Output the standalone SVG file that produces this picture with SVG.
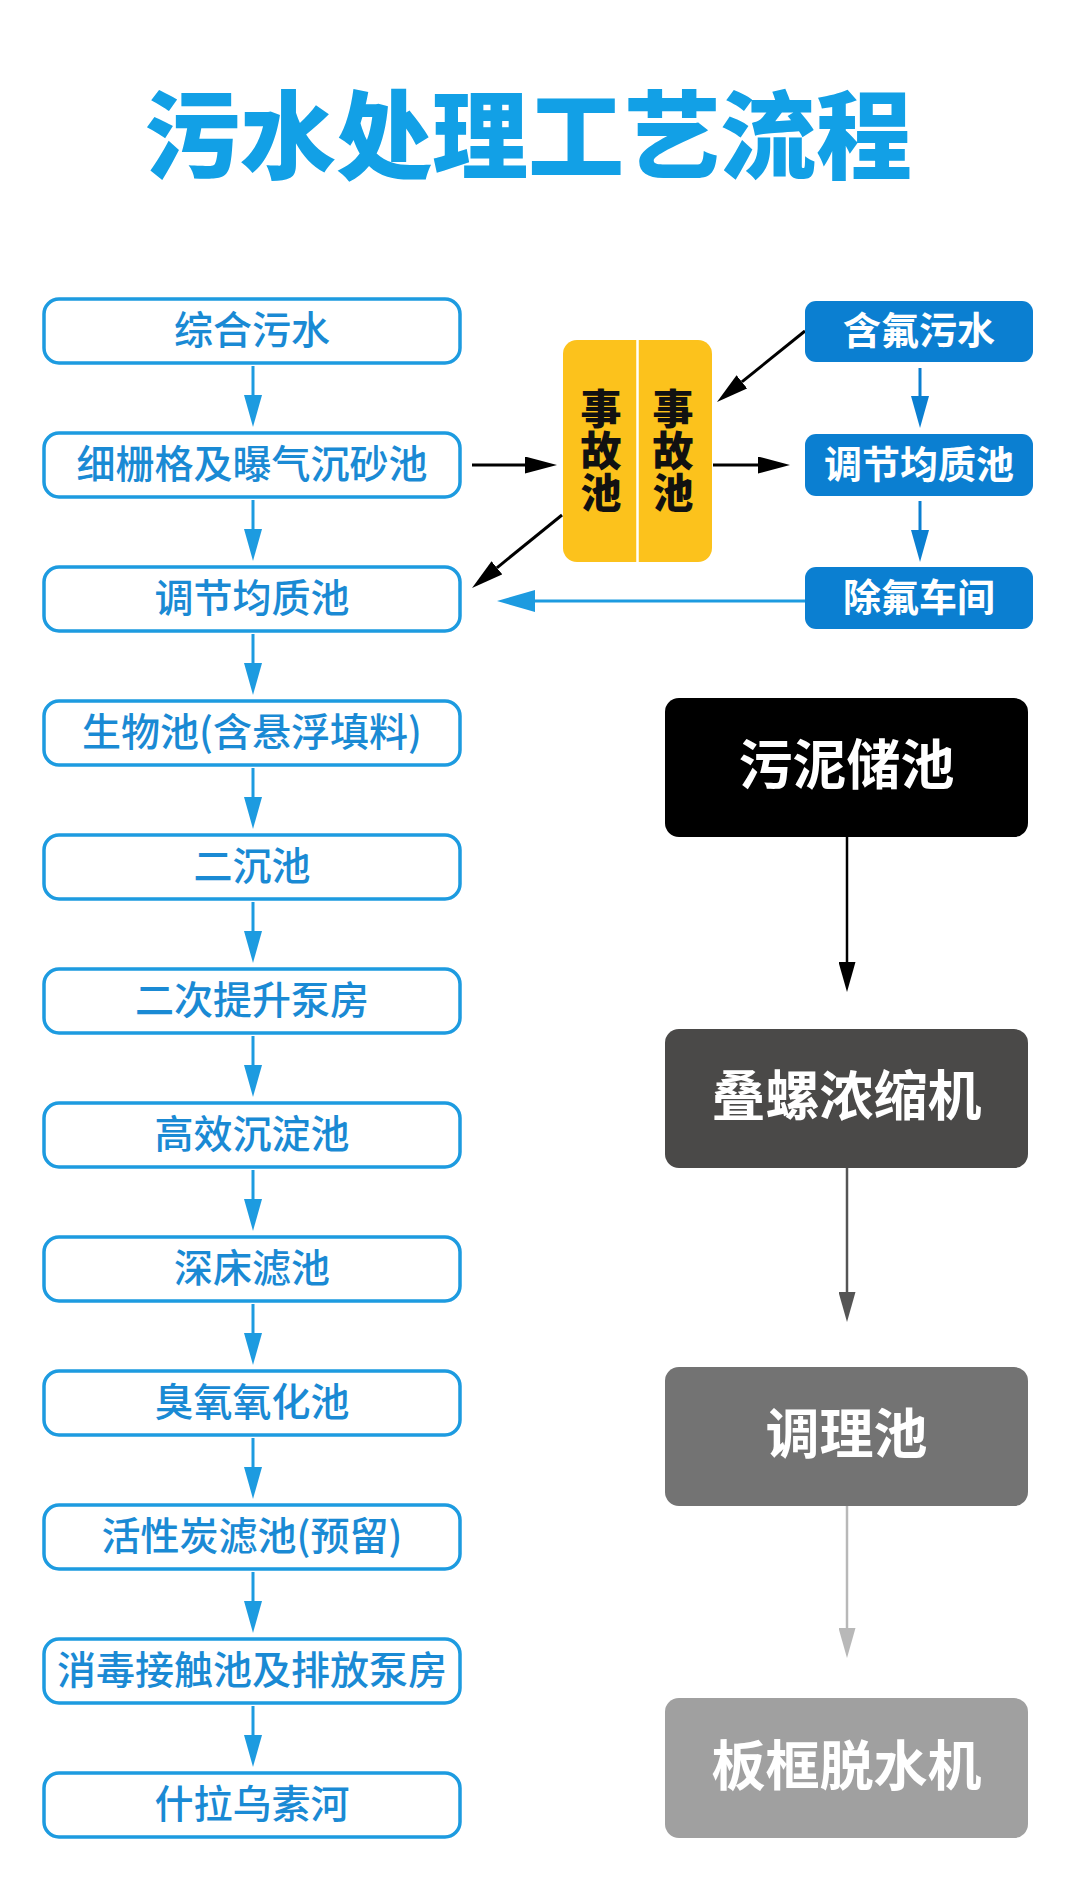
<svg xmlns="http://www.w3.org/2000/svg" width="1080" height="1894" viewBox="0 0 1080 1894">
<style>
text{font-family:"Noto Sans CJK SC","Noto Sans",sans-serif;text-anchor:middle;dominant-baseline:central}
.title{font-size:96px;font-weight:900;fill:#12a0e6}
.lbox{fill:#fff;stroke:#1d9be0;stroke-width:3.5}
.ltxt{font-size:39px;font-weight:500;fill:#1a8ad4}
.rbox{fill:#0b7fd1}
.rtxt{font-size:38px;font-weight:700;fill:#fff}
.stxt{font-size:54px;font-weight:700;fill:#fff}
.ytxt{font-size:41px;font-weight:900;fill:#111;writing-mode:vertical-rl;letter-spacing:1px}
.cb{stroke:#1d9be0;stroke-width:3;fill:none}
.cd{stroke:#0b7fd1;stroke-width:3;fill:none}
.ck{stroke:#000;stroke-width:3;fill:none}
</style>
<defs>
<marker id="ab" markerUnits="userSpaceOnUse" markerWidth="32" markerHeight="18" refX="0" refY="9" orient="auto"><path d="M0,0L32,9L0,18z" fill="#1d9be0"/></marker>
<marker id="ad" markerUnits="userSpaceOnUse" markerWidth="32" markerHeight="18" refX="0" refY="9" orient="auto"><path d="M0,0L32,9L0,18z" fill="#0b7fd1"/></marker>
<marker id="abl" markerUnits="userSpaceOnUse" markerWidth="38" markerHeight="22" refX="0" refY="11" orient="auto"><path d="M0,0L38,11L0,22z" fill="#1d9be0"/></marker>
<marker id="ak" markerUnits="userSpaceOnUse" markerWidth="32" markerHeight="17" refX="0" refY="8.5" orient="auto"><path d="M0,0L32,8.5L0,17z" fill="#000"/></marker>
<marker id="s1" markerUnits="userSpaceOnUse" markerWidth="30" markerHeight="17" refX="0" refY="8.5" orient="auto"><path d="M0,0L30,8.5L0,17z" fill="#000"/></marker>
<marker id="s2" markerUnits="userSpaceOnUse" markerWidth="30" markerHeight="17" refX="0" refY="8.5" orient="auto"><path d="M0,0L30,8.5L0,17z" fill="#555"/></marker>
<marker id="s3" markerUnits="userSpaceOnUse" markerWidth="30" markerHeight="17" refX="0" refY="8.5" orient="auto"><path d="M0,0L30,8.5L0,17z" fill="#b8b8b8"/></marker>
</defs>
<rect width="1080" height="1894" fill="#fff"/>
<text class="title" x="528" y="129">污水处理工艺流程</text>

<g id="connectors">
<line class="cb" x1="253" y1="366" x2="253" y2="395" marker-end="url(#ab)"/>
<line class="cb" x1="253" y1="500" x2="253" y2="529" marker-end="url(#ab)"/>
<line class="cb" x1="253" y1="634" x2="253" y2="663" marker-end="url(#ab)"/>
<line class="cb" x1="253" y1="768" x2="253" y2="797" marker-end="url(#ab)"/>
<line class="cb" x1="253" y1="902" x2="253" y2="931" marker-end="url(#ab)"/>
<line class="cb" x1="253" y1="1036" x2="253" y2="1065" marker-end="url(#ab)"/>
<line class="cb" x1="253" y1="1170" x2="253" y2="1199" marker-end="url(#ab)"/>
<line class="cb" x1="253" y1="1304" x2="253" y2="1333" marker-end="url(#ab)"/>
<line class="cb" x1="253" y1="1438" x2="253" y2="1467" marker-end="url(#ab)"/>
<line class="cb" x1="253" y1="1572" x2="253" y2="1601" marker-end="url(#ab)"/>
<line class="cb" x1="253" y1="1706" x2="253" y2="1735" marker-end="url(#ab)"/>
<line class="cd" x1="920" y1="368" x2="920" y2="396" marker-end="url(#ad)"/>
<line class="cd" x1="920" y1="501" x2="920" y2="530" marker-end="url(#ad)"/>
<line class="cb" x1="805" y1="601" x2="535" y2="601" marker-end="url(#abl)"/>
<line class="ck" x1="472" y1="465" x2="525" y2="465" marker-end="url(#ak)"/>
<line class="ck" x1="713" y1="465" x2="758" y2="465" marker-end="url(#ak)"/>
<line class="ck" x1="805" y1="331" x2="741.9" y2="381.9" marker-end="url(#ak)"/>
<line class="ck" x1="562" y1="515" x2="496.9" y2="567.8" marker-end="url(#ak)"/>
<line x1="847" y1="837" x2="847" y2="962" stroke="#000" stroke-width="2.5" marker-end="url(#s1)"/>
<line x1="847" y1="1168" x2="847" y2="1292" stroke="#555" stroke-width="2.5" marker-end="url(#s2)"/>
<line x1="847" y1="1506" x2="847" y2="1628" stroke="#b8b8b8" stroke-width="2.5" marker-end="url(#s3)"/>
</g>

<g id="n1"><rect class="lbox" x="44" y="299" width="416" height="64" rx="15"/><text class="ltxt" x="252" y="327">综合污水</text></g>
<g id="n2"><rect class="lbox" x="44" y="433" width="416" height="64" rx="15"/><text class="ltxt" x="252" y="461">细栅格及曝气沉砂池</text></g>
<g id="n3"><rect class="lbox" x="44" y="567" width="416" height="64" rx="15"/><text class="ltxt" x="252" y="595">调节均质池</text></g>
<g id="n4"><rect class="lbox" x="44" y="701" width="416" height="64" rx="15"/><text class="ltxt" x="252" y="729">生物池(含悬浮填料)</text></g>
<g id="n5"><rect class="lbox" x="44" y="835" width="416" height="64" rx="15"/><text class="ltxt" x="252" y="863">二沉池</text></g>
<g id="n6"><rect class="lbox" x="44" y="969" width="416" height="64" rx="15"/><text class="ltxt" x="252" y="997">二次提升泵房</text></g>
<g id="n7"><rect class="lbox" x="44" y="1103" width="416" height="64" rx="15"/><text class="ltxt" x="252" y="1131">高效沉淀池</text></g>
<g id="n8"><rect class="lbox" x="44" y="1237" width="416" height="64" rx="15"/><text class="ltxt" x="252" y="1265">深床滤池</text></g>
<g id="n9"><rect class="lbox" x="44" y="1371" width="416" height="64" rx="15"/><text class="ltxt" x="252" y="1399">臭氧氧化池</text></g>
<g id="n10"><rect class="lbox" x="44" y="1505" width="416" height="64" rx="15"/><text class="ltxt" x="252" y="1533">活性炭滤池(预留)</text></g>
<g id="n11"><rect class="lbox" x="44" y="1639" width="416" height="64" rx="15"/><text class="ltxt" x="252" y="1667">消毒接触池及排放泵房</text></g>
<g id="n12"><rect class="lbox" x="44" y="1773" width="416" height="64" rx="15"/><text class="ltxt" x="252" y="1801">什拉乌素河</text></g>

<g id="accident"><rect x="563" y="340" width="149" height="222" rx="14" fill="#fcc21c"/><line x1="637.5" y1="340" x2="637.5" y2="562" stroke="#fff" stroke-width="2.5"/>
<text class="ytxt" x="601" y="451">事故池</text>
<text class="ytxt" x="673" y="451">事故池</text></g>

<g id="r1"><rect class="rbox" x="805" y="301" width="228" height="61" rx="11"/><text class="rtxt" x="919" y="327">含氟污水</text></g>
<g id="r2"><rect class="rbox" x="805" y="434" width="228" height="62" rx="11"/><text class="rtxt" x="919" y="461">调节均质池</text></g>
<g id="r3"><rect class="rbox" x="805" y="567" width="228" height="62" rx="11"/><text class="rtxt" x="919" y="594">除氟车间</text></g>

<g id="s1n"><rect x="665" y="698" width="363" height="139" rx="14" fill="#000"/><text class="stxt" x="846.5" y="761">污泥储池</text></g>
<g id="s2n"><rect x="665" y="1029" width="363" height="139" rx="14" fill="#4a4948"/><text class="stxt" x="846.5" y="1092">叠螺浓缩机</text></g>
<g id="s3n"><rect x="665" y="1367" width="363" height="139" rx="14" fill="#737373"/><text class="stxt" x="846.5" y="1430">调理池</text></g>
<g id="s4n"><rect x="665" y="1698" width="363" height="140" rx="14" fill="#a0a0a0"/><text class="stxt" x="846.5" y="1762">板框脱水机</text></g>
</svg>
